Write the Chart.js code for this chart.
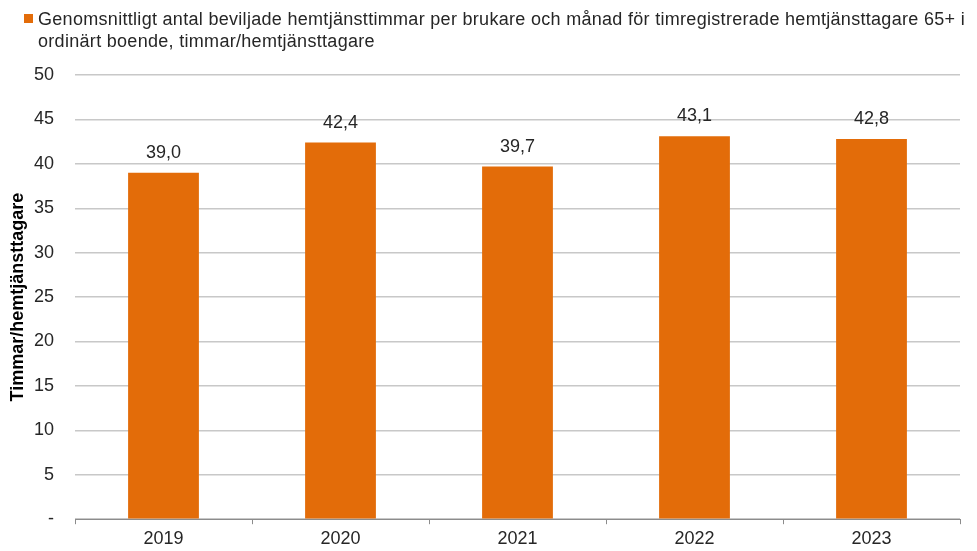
<!DOCTYPE html>
<html>
<head>
<meta charset="utf-8">
<script src="https://cdn.jsdelivr.net/npm/chart.js@4"></script>
<style>
  html, body { margin: 0; padding: 0; background: #fff; }
  #wrap { width: 977px; height: 551px; position: relative; }
</style>
</head>
<body>
<div id="wrap"><canvas id="c"></canvas></div>
<script>
const years = ['2019', '2020', '2021', '2022', '2023'];
const hours = [39.0, 42.4, 39.7, 43.1, 42.8];
const yTicks = [0, 5, 10, 15, 20, 25, 30, 35, 40, 45, 50];
const seriesName = [
  'Genomsnittligt antal beviljade hemtjänsttimmar per brukare och månad för timregistrerade hemtjänsttagare 65+ i',
  'ordinärt boende, timmar/hemtjänsttagare'
];
const axisTitle = 'Timmar/hemtjänsttagare';

const barColor = '#E36C09';
const textColor = '#262626';
const fontFamily = 'Arial, "Liberation Sans", sans-serif';

// legend drawn by hand so it can wrap onto two lines
const legendPlugin = {
  id: 'wrappedLegend',
  afterDraw(chart) {
    const ctx = chart.ctx;
    ctx.save();
    ctx.fillStyle = barColor;
    ctx.fillRect(24, 14, 9, 9);
    ctx.fillStyle = textColor;
    ctx.font = '18px ' + fontFamily;
    ctx.letterSpacing = '0.3px';
    ctx.textBaseline = 'alphabetic';
    seriesName.forEach((line, i) => ctx.fillText(line, 38, 25 + i * 22));
    ctx.restore();
  }
};

// value labels above the bars
const valueLabels = {
  id: 'valueLabels',
  afterDatasetsDraw(chart) {
    const ctx = chart.ctx;
    const meta = chart.getDatasetMeta(0);
    ctx.save();
    ctx.fillStyle = textColor;
    ctx.font = '18px ' + fontFamily;
    ctx.textAlign = 'center';
    ctx.textBaseline = 'alphabetic';
    meta.data.forEach((bar, i) => {
      ctx.fillText(hours[i].toFixed(1).replace('.', ','), bar.x, bar.y - 15);
    });
    ctx.restore();
  }
};

new Chart(document.getElementById('c'), {
  type: 'bar',
  data: {
    labels: years,
    datasets: [{
      label: seriesName.join(' '),
      data: hours,
      backgroundColor: barColor,
      borderWidth: 0,
      categoryPercentage: 1,
      barPercentage: 0.4
    }]
  },
  options: {
    responsive: true,
    maintainAspectRatio: false,
    animation: false,
    layout: { padding: { top: 75, right: 17, left: 0, bottom: 0 } },
    plugins: {
      legend: { display: false },
      tooltip: { enabled: false }
    },
    scales: {
      x: {
        grid: {
          offset: true,
          drawOnChartArea: false,
          drawTicks: true,
          tickLength: 5,
          color: '#8c8c8c'
        },
        border: { color: '#8c8c8c', width: 1 },
        ticks: {
          color: textColor,
          font: { size: 18, family: fontFamily },
          padding: 4
        },
        afterFit(scale) { scale.height = 31; }
      },
      y: {
        min: 0,
        max: 50,
        afterBuildTicks(scale) { scale.ticks = yTicks.map((v) => ({ value: v })); },
        grid: { color: '#c8c8c8', lineWidth: 1.5, drawTicks: false },
        border: { display: false },
        ticks: {
          color: textColor,
          font: { size: 18, family: fontFamily },
          padding: 21,
          callback: (v) => (v === 0 ? '-' : String(v))
        },
        title: {
          display: true,
          text: axisTitle,
          color: '#000',
          font: { size: 18, weight: 'bold', family: fontFamily },
          padding: { top: 7, bottom: 2 }
        },
        afterFit(scale) { scale.width = 75; }
      }
    }
  },
  plugins: [legendPlugin, valueLabels]
});
</script>
</body>
</html>
